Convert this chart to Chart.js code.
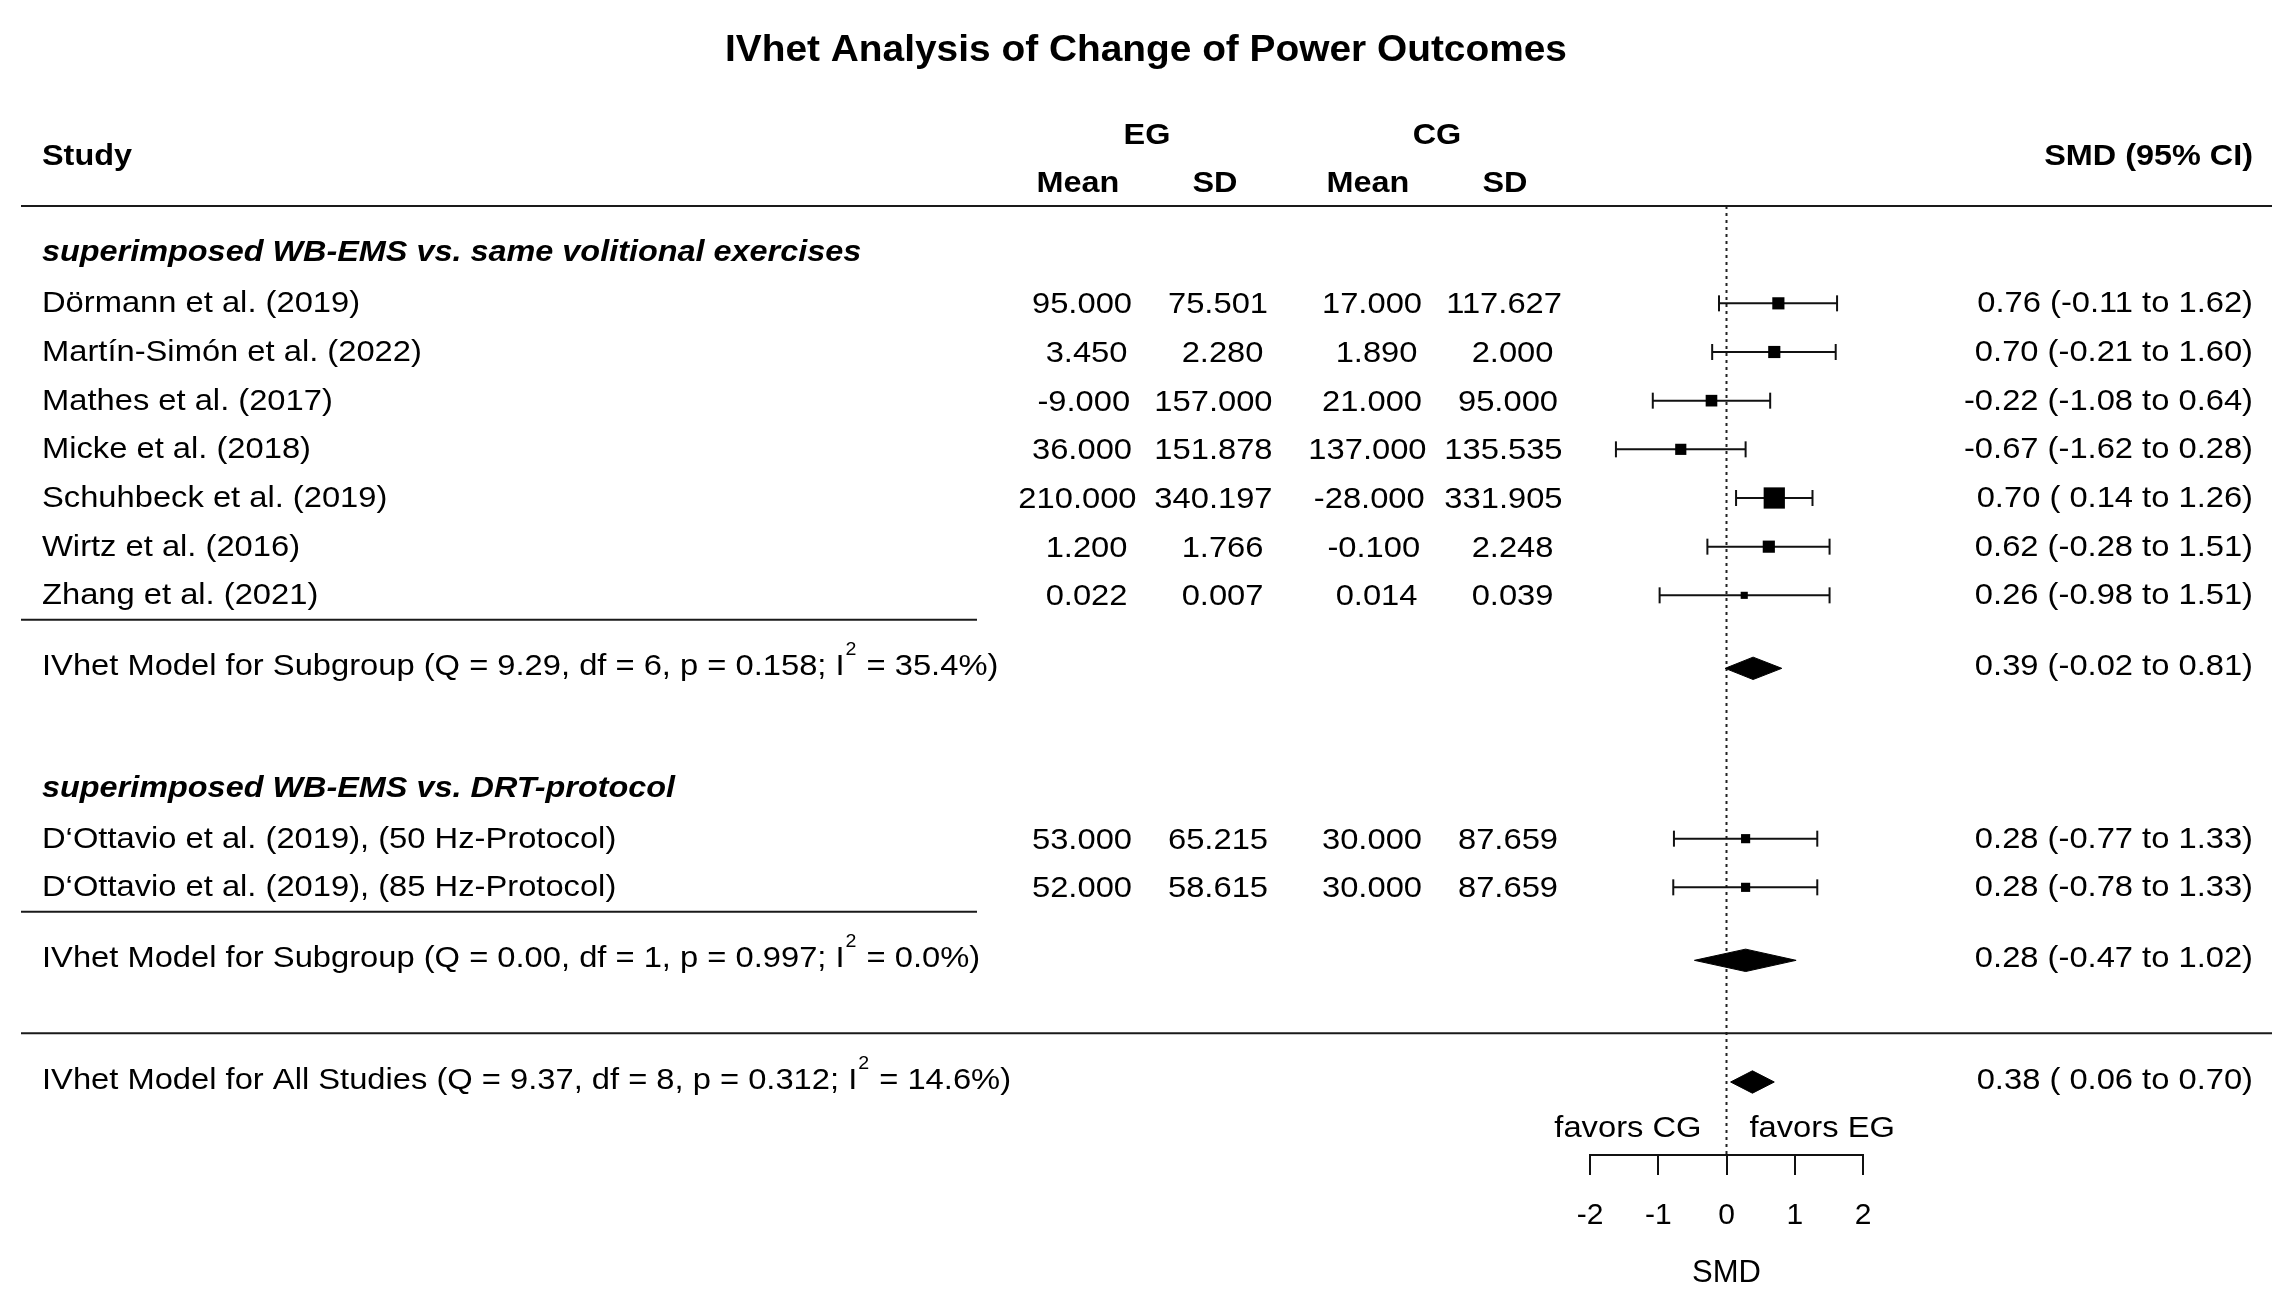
<!DOCTYPE html>
<html>
<head>
<meta charset="utf-8">
<title>IVhet Analysis of Change of Power Outcomes</title>
<script src="https://cdn.jsdelivr.net/npm/chart.js@4.4.1/dist/chart.umd.min.js"></script>
<style>
  html, body { margin: 0; padding: 0; background: #fff; }
  canvas { display: block; }
</style>
</head>
<body>
<canvas id="forest" width="2293" height="1307"></canvas>
<script>
// ---- data ----
const studies = [
    "Dörmann et al. (2019)",
    "Martín-Simón et al. (2022)",
    "Mathes et al. (2017)",
    "Micke et al. (2018)",
    "Schuhbeck et al. (2019)",
    "Wirtz et al. (2016)",
    "Zhang et al. (2021)",
    "D‘Ottavio et al. (2019), (50 Hz-Protocol)",
    "D‘Ottavio et al. (2019), (85 Hz-Protocol)",
];
const egMean = [95, 3.45, -9, 36, 210, 1.2, 0.022, 53, 52];
const egSD = [75.501, 2.28, 157, 151.878, 340.197, 1.766, 0.007, 65.215, 58.615];
const cgMean = [17, 1.89, 21, 137, -28, -0.1, 0.014, 30, 30];
const cgSD = [117.627, 2, 95, 135.535, 331.905, 2.248, 0.039, 87.659, 87.659];
const smd = [0.76, 0.70, -0.22, -0.67, 0.70, 0.62, 0.26, 0.28, 0.28];
const ciLow = [-0.11, -0.21, -1.08, -1.62, 0.14, -0.28, -0.98, -0.77, -0.78];
const ciHigh = [1.62, 1.60, 0.64, 0.28, 1.26, 1.51, 1.51, 1.33, 1.33];
// relative weights
const boxWeights = [10.8, 10.8, 9.9, 9.1, 33.0, 10.8, 3.7, 6.1, 6.1];

const subgroupNames = ["superimposed WB-EMS vs. same volitional exercises", "superimposed WB-EMS vs. DRT-protocol"];
const subgroupStudies = [[0, 1, 2, 3, 4, 5, 6], [7, 8]];
const subgroupSMD = [0.39, 0.28];
const subgroupLow = [-0.02, -0.47];
const subgroupHigh = [0.81, 1.02];
const subgroupQ = [9.29, 0.0];
const subgroupDf = [6, 1];
const subgroupP = [0.158, 0.997];
const subgroupI2 = [35.4, 0.0];

const overallSMD = 0.38;
const overallLow = 0.06;
const overallHigh = 0.70;
const overallQ = 9.37;
const overallDf = 8;
const overallP = 0.312;
const overallI2 = 14.6;

const xTicks = [-2, -1, 0, 1, 2];

// ---- row layout ----
const rows = { header: [], study: [], rule: [], summary: [] };
let r = -1;
subgroupNames.forEach((name, g) => {
    rows.header.push(r);
    r++;
    subgroupStudies[g].forEach((i) => { rows.study[i] = r; r++; });
    rows.rule.push(r - 0.5);
    rows.summary.push(r + 0.5);
    r += 3;
});
const overallRow = r;
const fullRuleRow = r - 1;
const yTop = -2;
const yBottom = r + 1.5;

const FONT = "'Liberation Sans', Arial, Helvetica, sans-serif";
const DIAMOND_H = 0.23;
const RIGHT = 2253;

function boxRadius(w) {
    const side = 3.7 * Math.sqrt(w);
    return side / Math.SQRT2;
}

function diamond(est, lo, hi, row) {
    return [
        { x: lo, y: row },
        { x: est, y: row - DIAMOND_H },
        { x: hi, y: row },
        { x: est, y: row + DIAMOND_H },
        { x: lo, y: row },
    ];
}

function ciText(est, lo, hi) {
    const pad = (v) => (v >= 0 ? " " : "") + v.toFixed(2);
    return `${est.toFixed(2)} (${pad(lo)} to ${hi.toFixed(2)})`;
}

// text with a slight horizontal stretch; align may be 'left' | 'right' | 'center' | fraction
function text(ctx, s, x, y, opt = {}) {
    const size = opt.size || 30;
    const sx = opt.sx || (opt.bold ? 1.08 : 1.09);
    ctx.save();
    ctx.font = `${opt.italic ? "italic " : ""}${opt.bold ? "bold " : ""}${size}px ${FONT}`;
    ctx.fillStyle = "#000";
    ctx.textAlign = "left";
    ctx.textBaseline = "alphabetic";
    const w = ctx.measureText(s).width * sx;
    const a = opt.align || "left";
    const f = a === "left" ? 0 : a === "right" ? 1 : a === "center" ? 0.5 : a;
    const left = x - w * f;
    ctx.translate(left, y);
    ctx.scale(sx, 1);
    ctx.fillText(s, 0, 0);
    ctx.restore();
    return left + w;
}

function statText(ctx, label, q, df, p, i2, x, y) {
    let end = text(ctx, `${label} (Q = ${q.toFixed(2)}, df = ${df}, p = ${p.toFixed(3)}; I`, x, y);
    end = text(ctx, "2", end + 1, y - 20, { size: 18 });
    text(ctx, ` = ${i2.toFixed(1)}%)`, end + 1, y);
}

function rule(ctx, x1, x2, y) {
    ctx.save();
    ctx.strokeStyle = "#1a1a1a";
    ctx.lineWidth = 2;
    ctx.beginPath();
    ctx.moveTo(x1, y);
    ctx.lineTo(x2, y);
    ctx.stroke();
    ctx.restore();
}

const forestTable = {
    id: "forestTable",
    afterDraw(chart) {
        const ctx = chart.ctx;
        const py = (row) => chart.scales.y.getPixelForValue(row);

        text(ctx, "IVhet Analysis of Change of Power Outcomes", 1146, 61, { size: 37, bold: true, sx: 1.05, align: "center" });
        text(ctx, "Study", 42, 165, { bold: true });
        text(ctx, "SMD (95% CI)", RIGHT, 165, { bold: true, align: "right" });
        text(ctx, "EG", 1147, 144, { bold: true, align: "center" });
        text(ctx, "CG", 1437, 144, { bold: true, align: "center" });
        text(ctx, "Mean", 1078, 192, { bold: true, align: "center" });
        text(ctx, "SD", 1215, 192, { bold: true, align: "center" });
        text(ctx, "Mean", 1368, 192, { bold: true, align: "center" });
        text(ctx, "SD", 1505, 192, { bold: true, align: "center" });

        rule(ctx, 21, RIGHT + 19, py(yTop));
        rule(ctx, 21, RIGHT + 19, py(fullRuleRow));

        subgroupNames.forEach((name, g) => {
            text(ctx, name, 42, py(rows.header[g]) + 6.5, { bold: true, italic: true });
            rule(ctx, 21, 977, py(rows.rule[g]));
            const ys = py(rows.summary[g]) + 7;
            statText(ctx, "IVhet Model for Subgroup", subgroupQ[g], subgroupDf[g], subgroupP[g], subgroupI2[g], 42, ys);
            text(ctx, ciText(subgroupSMD[g], subgroupLow[g], subgroupHigh[g]), RIGHT, ys, { align: "right" });
        });

        studies.forEach((name, i) => {
            const ys = py(rows.study[i]) + 10;
            text(ctx, name, 42, ys - 1);
            text(ctx, egMean[i].toFixed(3), 1107, ys, { align: 0.75 });
            text(ctx, egSD[i].toFixed(3), 1243, ys, { align: 0.75 });
            text(ctx, cgMean[i].toFixed(3), 1397, ys, { align: 0.75 });
            text(ctx, cgSD[i].toFixed(3), 1533, ys, { align: 0.75 });
            text(ctx, ciText(smd[i], ciLow[i], ciHigh[i]), RIGHT, ys - 1, { align: "right" });
        });

        const yo = py(overallRow) + 7;
        statText(ctx, "IVhet Model for All Studies", overallQ, overallDf, overallP, overallI2, 42, yo);
        text(ctx, ciText(overallSMD, overallLow, overallHigh), RIGHT, yo, { align: "right" });

        const x0 = chart.scales.x.getPixelForValue(0);
        text(ctx, "favors CG", x0 - 25, 1137, { align: "right" });
        text(ctx, "favors EG", x0 + 23, 1137);
    },
};

const ciSets = studies.map((s, i) => ({
    label: s,
    data: [{ x: ciLow[i], y: rows.study[i] }, { x: ciHigh[i], y: rows.study[i] }],
    showLine: true,
    borderColor: "#111",
    borderWidth: 2,
    pointStyle: "line",
    rotation: 90,
    pointRadius: 8,
    pointBorderWidth: 2,
    pointBorderColor: "#111",
    order: 2,
}));

const boxSet = {
    label: "SMD",
    data: smd.map((v, i) => ({ x: v, y: rows.study[i] })),
    pointStyle: "rect",
    pointRadius: boxWeights.map(boxRadius),
    backgroundColor: "#000",
    borderWidth: 0,
    order: 1,
};

const diamondSets = [
    ...subgroupSMD.map((v, g) => diamond(v, subgroupLow[g], subgroupHigh[g], rows.summary[g])),
    diamond(overallSMD, overallLow, overallHigh, overallRow),
].map((pts) => ({
    data: pts,
    showLine: true,
    fill: "shape",
    backgroundColor: "#000",
    borderColor: "#000",
    borderWidth: 1,
    pointRadius: 0,
    order: 1,
}));

const zeroLine = {
    data: [{ x: 0, y: yTop }, { x: 0, y: yBottom }],
    showLine: true,
    borderColor: "#222",
    borderWidth: 2,
    borderDash: [3, 4],
    pointRadius: 0,
    order: 3,
};

new Chart(document.getElementById("forest").getContext("2d"), {
    type: "scatter",
    data: { datasets: [zeroLine, ...ciSets, boxSet, ...diamondSets] },
    options: {
        responsive: false,
        devicePixelRatio: 1,
        animation: false,
        layout: { padding: { left: 1590, right: 430, top: 206, bottom: 0 } },
        plugins: { legend: { display: false }, tooltip: { enabled: false } },
        scales: {
            x: {
                type: "linear",
                min: xTicks[0],
                max: xTicks[xTicks.length - 1],
                afterBuildTicks: (scale) => { scale.ticks = xTicks.map((v) => ({ value: v })); },
                afterFit: (scale) => { scale.height = 152; },
                border: { display: true, color: "#111", width: 2 },
                grid: { drawOnChartArea: false, drawTicks: true, tickLength: 20, color: "#111", lineWidth: 2 },
                ticks: { color: "#000", font: { family: FONT, size: 30 }, padding: 23, maxRotation: 0 },
                title: { display: true, text: "SMD", color: "#000", font: { family: FONT, size: 31 }, padding: { top: 0, bottom: 15 } },
            },
            y: { type: "linear", min: yTop, max: yBottom, reverse: true, display: false },
        },
    },
    plugins: [forestTable],
});
</script>
</body>
</html>
